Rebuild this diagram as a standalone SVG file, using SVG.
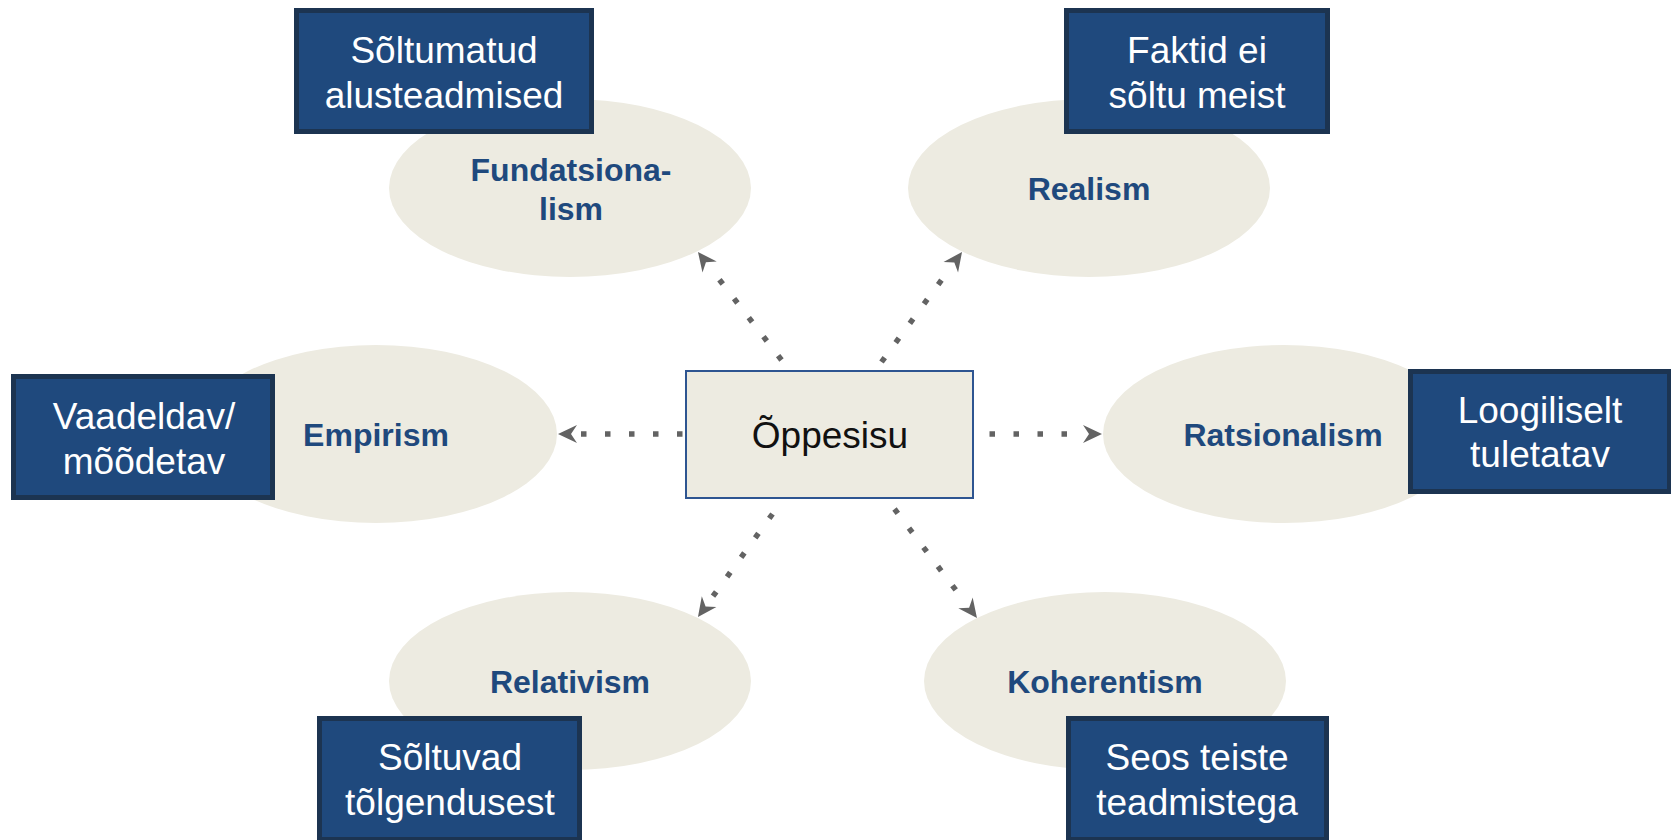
<svg xmlns="http://www.w3.org/2000/svg" width="1671" height="840" viewBox="0 0 1671 840">
  <style>
    .ell { fill: #edebe1; }
    .ell-t { font-family: "Liberation Sans", Arial, sans-serif; font-size: 32px; font-weight: bold; fill: #1f497d; text-anchor: middle; }
    .box { fill: #1f497d; stroke: #1c3451; stroke-width: 5; }
    .box-t { font-family: "Liberation Sans", Arial, sans-serif; font-size: 37px; fill: #ffffff; text-anchor: middle; }
    .center { fill: #edebe1; stroke: #2e5591; stroke-width: 2; }
    .center-t { font-family: "Liberation Sans", Arial, sans-serif; font-size: 37px; fill: #111111; text-anchor: middle; }
    .conn { fill: none; stroke: #636363; stroke-width: 5.5; stroke-dasharray: 5.5 18.5; marker-end: url(#arr); }
  </style>
  <defs>
    <marker id="arr" markerUnits="userSpaceOnUse" markerWidth="24" markerHeight="24" refX="0" refY="0" viewBox="-2 -12 24 24" orient="auto">
      <path d="M0,-9 L19,0 L0,9 L6,0 Z" fill="#636363"/>
    </marker>
  </defs>

  <g id="ellipses">
    <g id="fundatsionalism">
      <ellipse class="ell" cx="570" cy="188" rx="181" ry="89"/>
      <text class="ell-t" x="571" y="181">Fundatsiona-</text>
      <text class="ell-t" x="571" y="220">lism</text>
    </g>
    <g id="realism">
      <ellipse class="ell" cx="1089" cy="188" rx="181" ry="89"/>
      <text class="ell-t" x="1089" y="200">Realism</text>
    </g>
    <g id="empirism">
      <ellipse class="ell" cx="376" cy="434" rx="181" ry="89"/>
      <text class="ell-t" x="376" y="446">Empirism</text>
    </g>
    <g id="ratsionalism">
      <ellipse class="ell" cx="1284" cy="434" rx="181" ry="89"/>
      <text class="ell-t" x="1283" y="446">Ratsionalism</text>
    </g>
    <g id="relativism">
      <ellipse class="ell" cx="570" cy="681" rx="181" ry="89"/>
      <text class="ell-t" x="570" y="693">Relativism</text>
    </g>
    <g id="koherentism">
      <ellipse class="ell" cx="1105" cy="681" rx="181" ry="89"/>
      <text class="ell-t" x="1105" y="693">Koherentism</text>
    </g>
  </g>

  <g id="boxes">
    <g id="box-soltumatud">
      <rect class="box" x="296.5" y="10.5" width="295" height="121"/>
      <text class="box-t" x="444" y="63">Sõltumatud</text>
      <text class="box-t" x="444" y="108">alusteadmised</text>
    </g>
    <g id="box-faktid">
      <rect class="box" x="1066.5" y="10.5" width="261" height="121"/>
      <text class="box-t" x="1197" y="63">Faktid ei</text>
      <text class="box-t" x="1197" y="108">sõltu meist</text>
    </g>
    <g id="box-vaadeldav">
      <rect class="box" x="13.5" y="376.5" width="259" height="121"/>
      <text class="box-t" x="144" y="429">Vaadeldav/</text>
      <text class="box-t" x="144" y="474">mõõdetav</text>
    </g>
    <g id="box-loogiliselt">
      <rect class="box" x="1410.5" y="371.5" width="259" height="120"/>
      <text class="box-t" x="1540" y="423">Loogiliselt</text>
      <text class="box-t" x="1540" y="467">tuletatav</text>
    </g>
    <g id="box-soltuvad">
      <rect class="box" x="319.5" y="718.5" width="260" height="121"/>
      <text class="box-t" x="450" y="770">Sõltuvad</text>
      <text class="box-t" x="450" y="815">tõlgendusest</text>
    </g>
    <g id="box-seos">
      <rect class="box" x="1068.5" y="718.5" width="258" height="121"/>
      <text class="box-t" x="1197" y="770">Seos teiste</text>
      <text class="box-t" x="1197" y="815">teadmistega</text>
    </g>
  </g>

  <g id="connectors">
    <line class="conn" x1="781.5" y1="360" x2="709.6" y2="267"/>
    <line class="conn" x1="881.5" y1="362" x2="950.8" y2="267.3"/>
    <line class="conn" x1="682.5" y1="434" x2="577" y2="434"/>
    <line class="conn" x1="989.5" y1="434" x2="1083" y2="434"/>
    <line class="conn" x1="772.5" y1="514" x2="709.1" y2="601.6"/>
    <line class="conn" x1="894.5" y1="509" x2="965.5" y2="602.9"/>
  </g>

  <g id="oppesisu">
    <rect class="center" x="686" y="371" width="287" height="127"/>
    <text class="center-t" x="830" y="448">Õppesisu</text>
  </g>
</svg>
